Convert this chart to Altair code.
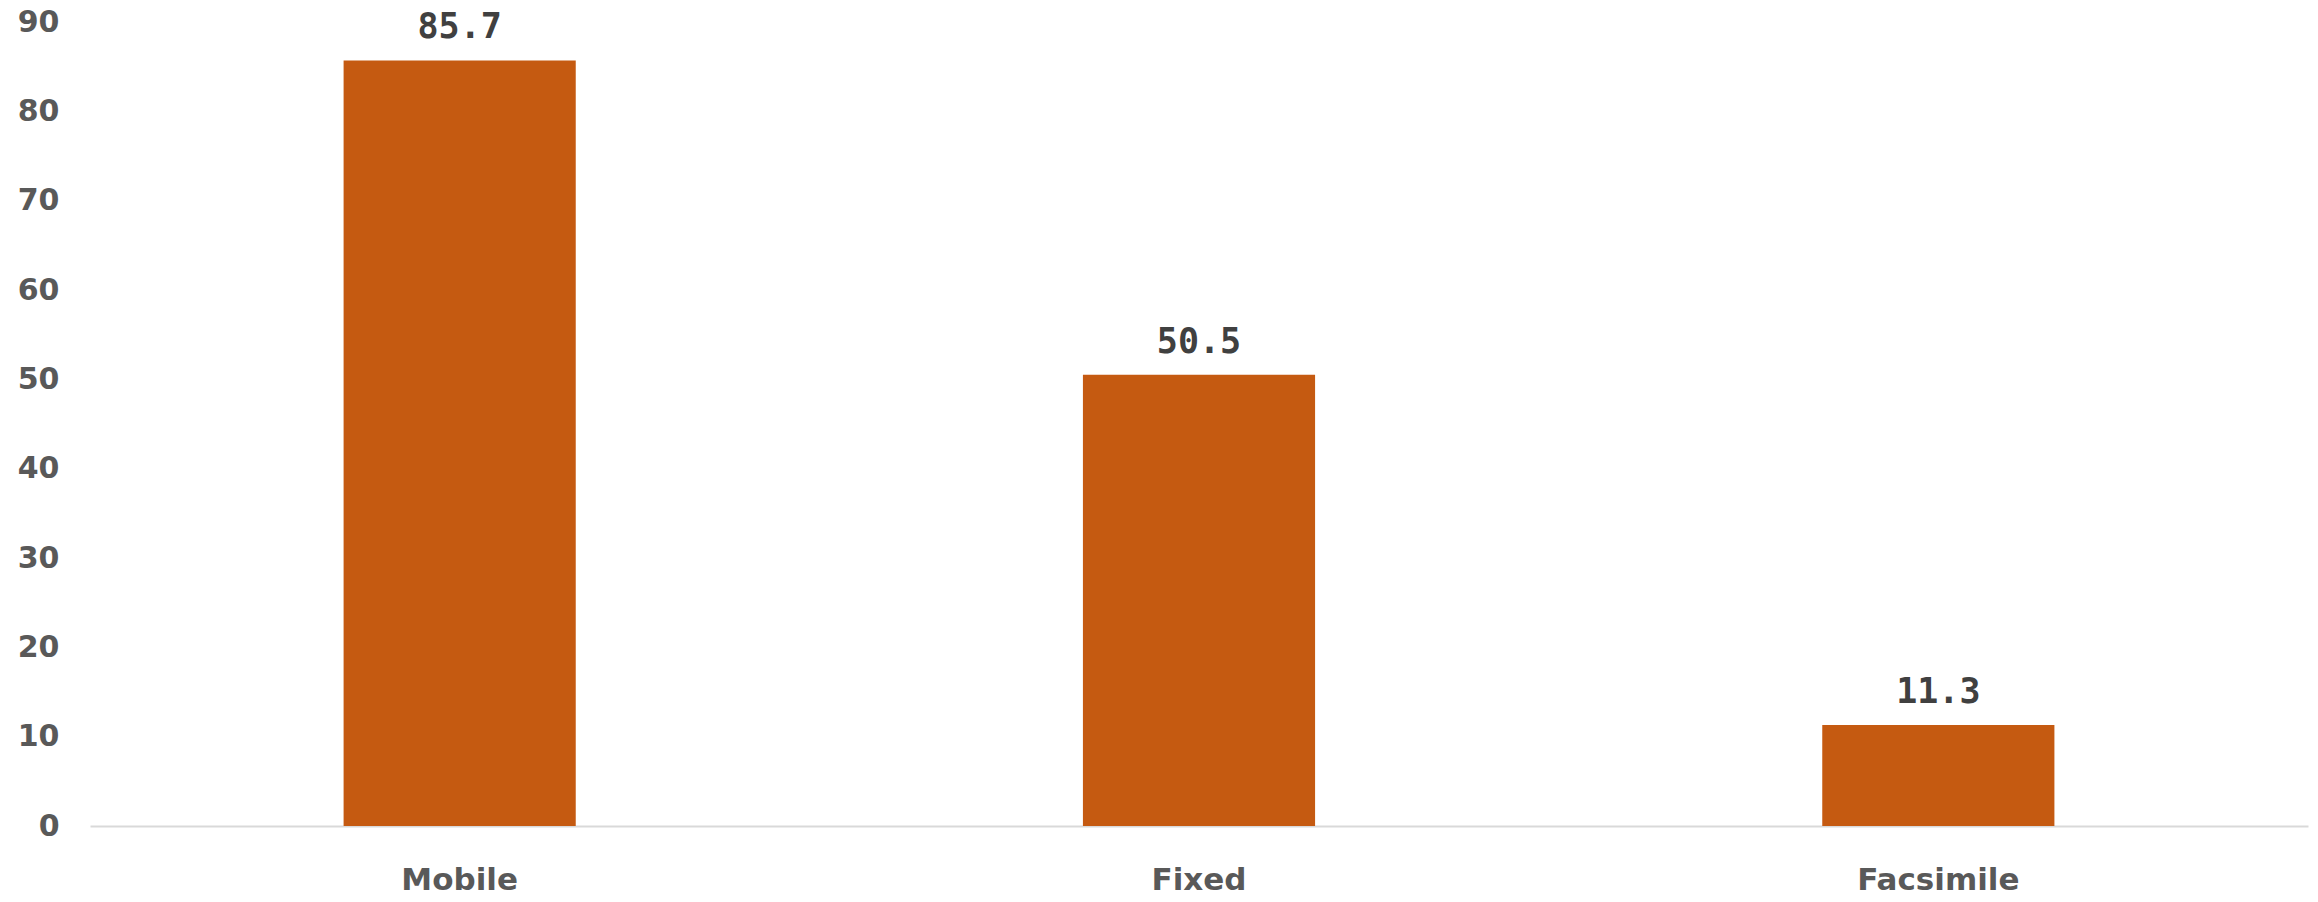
import altair as alt
import pandas as pd

categories = ["Mobile", "Fixed", "Facsimile"]
values = [85.7, 50.5, 11.3]
y_ticks = [0, 10, 20, 30, 40, 50, 60, 70, 80, 90]

df = pd.DataFrame({"category": categories, "value": values})

x_enc = alt.X(
    "category:N",
    sort=categories,
    title=None,
    scale=alt.Scale(paddingInner=0.686, paddingOuter=0.343),
    axis=alt.Axis(
        labelAngle=0,
        labelFont="DejaVu Sans",
        labelFontWeight="bold",
        labelFontSize=31,
        labelColor="#595959",
        labelPadding=39,
        ticks=False,
        domain=True,
        domainColor="#d9d9d9",
        domainWidth=2,
        grid=False,
    ),
)
y_enc = alt.Y(
    "value:Q",
    title=None,
    scale=alt.Scale(domain=[0, 90], nice=False),
    axis=alt.Axis(
        values=y_ticks,
        labelFont="DejaVu Sans",
        labelFontWeight="bold",
        labelFontSize=30,
        labelColor="#595959",
        labelPadding=31,
        ticks=False,
        domain=False,
        grid=False,
    ),
)

bars = alt.Chart(df).mark_bar(color="#C55A11").encode(x=x_enc, y=y_enc)

labels = alt.Chart(df).mark_text(
    font="DejaVu Sans Mono",
    fontWeight="bold",
    fontSize=35,
    color="#404040",
    baseline="alphabetic",
    dy=-22,
).encode(
    x=alt.X("category:N", sort=categories),
    y=alt.Y("value:Q"),
    text=alt.Text("value:Q", format=".1f"),
)

chart = (
    alt.layer(bars, labels)
    .properties(
        width=2218,
        height=804,
        autosize=alt.AutoSizeParams(type="none"),
        padding={"left": 90, "top": 22, "right": 10, "bottom": 76},
        background="white",
    )
    .configure_view(stroke=None)
)

chart.save("out.html", embed_options={"renderer": "svg", "actions": False})
